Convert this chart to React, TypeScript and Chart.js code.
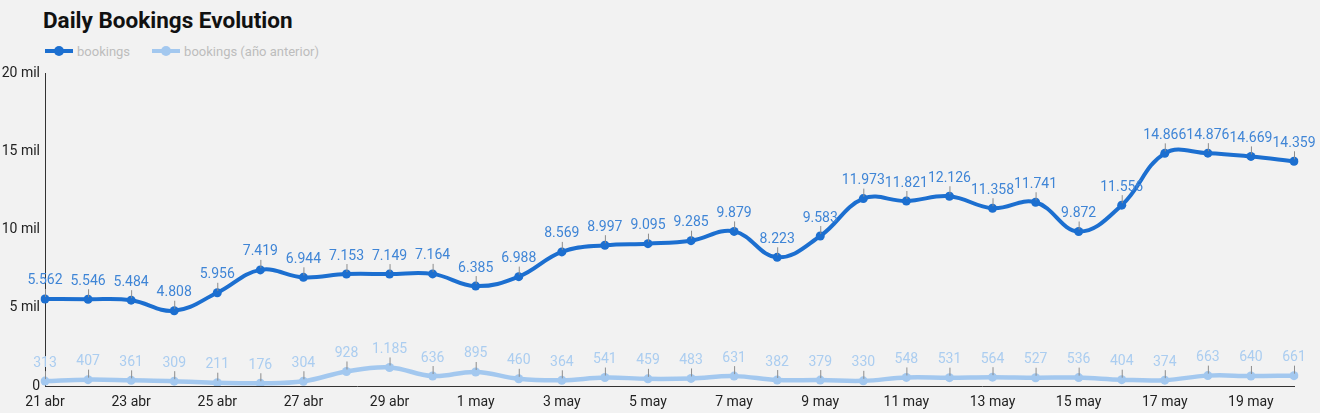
import React, { useEffect, useRef } from "react";
import { Chart, registerables } from "chart.js";

Chart.register(...registerables);

const dates = [
  "21 abr", "22 abr", "23 abr", "24 abr", "25 abr", "26 abr", "27 abr", "28 abr", "29 abr", "30 abr",
  "1 may", "2 may", "3 may", "4 may", "5 may", "6 may", "7 may", "8 may", "9 may", "10 may",
  "11 may", "12 may", "13 may", "14 may", "15 may", "16 may", "17 may", "18 may", "19 may", "20 may",
];

const bookings = [
  5562, 5546, 5484, 4808, 5956, 7419, 6944, 7153, 7149, 7164,
  6385, 6988, 8569, 8997, 9095, 9285, 9879, 8223, 9583, 11973,
  11821, 12126, 11358, 11741, 9872, 11556, 14866, 14876, 14669, 14359,
];

const bookingsPrevYear = [
  313, 407, 361, 309, 211, 176, 304, 928, 1185, 636,
  895, 460, 364, 541, 459, 483, 631, 382, 379, 330,
  548, 531, 564, 527, 536, 404, 374, 663, 640, 661,
];

const yTicks = [0, 5000, 10000, 15000, 20000];

const DARK = "#1c6fd0";
const DARK_LABEL = "#3f85d6";
const LIGHT = "#a3c8ef";
const LIGHT_LABEL = "#abcdf0";
const FONT = "Roboto, 'Noto Sans', sans-serif";

const fmt = (v: number) => String(v).replace(/\B(?=(\d{3})+(?!\d))/g, ".");

const dataLabelPlugin = {
  id: "dataLabels",
  afterDatasetsDraw(chart: any) {
    const ctx = chart.ctx;
    ctx.save();
    chart.data.datasets.forEach((ds: any, di: number) => {
      const meta = chart.getDatasetMeta(di);
      meta.data.forEach((pt: any, i: number) => {
        const x = pt.x;
        const y = pt.y;
        ctx.strokeStyle = "#8c8c8c";
        ctx.lineWidth = 1;
        ctx.beginPath();
        ctx.moveTo(x + 0.5, y - 2);
        ctx.lineTo(x + 0.5, y - 10);
        ctx.stroke();
        ctx.fillStyle = ds.labelColor;
        ctx.font = `14px ${FONT}`;
        ctx.textAlign = "center";
        ctx.textBaseline = "middle";
        ctx.fillText(fmt(ds.data[i]), x, y - 18);
      });
    });
    ctx.restore();
  },
};

function LegendItem({ color, label }: { color: string; label: string }) {
  return (
    <span style={{ display: "inline-flex", alignItems: "center", marginRight: 22 }}>
      <span style={{ position: "relative", width: 28, height: 10, display: "inline-block", marginRight: 4 }}>
        <span style={{ position: "absolute", left: 0, right: 0, top: 3, height: 4, background: color }} />
        <span style={{ position: "absolute", left: 9, top: 0, width: 10, height: 10, borderRadius: 5, background: color }} />
      </span>
      <span style={{ color: "#bdbdbd", fontSize: 13 }}>{label}</span>
    </span>
  );
}

export default function App() {
  const canvasRef = useRef<HTMLCanvasElement | null>(null);

  useEffect(() => {
    document.body.style.margin = "0";
    const canvas = canvasRef.current!;
    const chart = new Chart(canvas, {
      type: "line",
      data: {
        labels: dates,
        datasets: [
          {
            label: "bookings",
            data: bookings,
            borderColor: DARK,
            backgroundColor: DARK,
            borderWidth: 4,
            pointRadius: 4.5,
            pointBorderWidth: 0,
            tension: 0.4,
            labelColor: DARK_LABEL,
          } as any,
          {
            label: "bookings (año anterior)",
            data: bookingsPrevYear,
            borderColor: LIGHT,
            backgroundColor: LIGHT,
            borderWidth: 4.5,
            pointRadius: 4.5,
            pointBorderWidth: 0,
            tension: 0.4,
            labelColor: LIGHT_LABEL,
          } as any,
        ],
      },
      options: {
        animation: false,
        responsive: false,
        maintainAspectRatio: false,
        layout: { padding: { top: 73, right: 26, left: 0, bottom: 0 } },
        plugins: {
          legend: { display: false },
          title: { display: false },
          tooltip: { enabled: false },
        },
        scales: {
          x: {
            type: "category",
            offset: false,
            grid: { display: false, drawTicks: false },
            border: { display: true, color: "#333333", width: 1 },
            ticks: {
              autoSkip: false,
              maxRotation: 0,
              padding: 8,
              color: "#222222",
              font: { family: FONT, size: 14 },
              callback: (_v: any, i: number) => (i % 2 === 0 ? dates[i] : ""),
            },
            afterFit: (s: any) => {
              s.height = 27;
            },
          },
          y: {
            min: 0,
            max: 20000,
            afterBuildTicks: (s: any) => {
              s.ticks = yTicks.map((v) => ({ value: v }));
            },
            grid: { display: false, drawTicks: false },
            border: { display: true, color: "#333333", width: 1 },
            ticks: {
              padding: 5,
              color: "#222222",
              font: { family: FONT, size: 14 },
              callback: (v: any) => (v === 0 ? "0" : `${v / 1000} mil`),
            },
            afterFit: (s: any) => {
              s.width = 45;
            },
          },
        },
      },
      plugins: [dataLabelPlugin],
    });
    return () => chart.destroy();
  }, []);

  return (
    <div
      style={{
        position: "relative",
        width: 1320,
        height: 413,
        background: "#f2f2f2",
        fontFamily: FONT,
        overflow: "hidden",
      }}
    >
      <div
        style={{
          position: "absolute",
          left: 43,
          top: 5,
          fontSize: 22.5,
          fontWeight: 700,
          color: "#111111",
          lineHeight: "30px",
        }}
      >
        Daily Bookings Evolution
      </div>
      <div style={{ position: "absolute", left: 45, top: 43, display: "flex", alignItems: "center", height: 16 }}>
        <LegendItem color={DARK} label="bookings" />
        <LegendItem color={LIGHT} label="bookings (año anterior)" />
      </div>
      <canvas ref={canvasRef} width={1320} height={413} style={{ position: "absolute", left: 0, top: 0 }} />
    </div>
  );
}
